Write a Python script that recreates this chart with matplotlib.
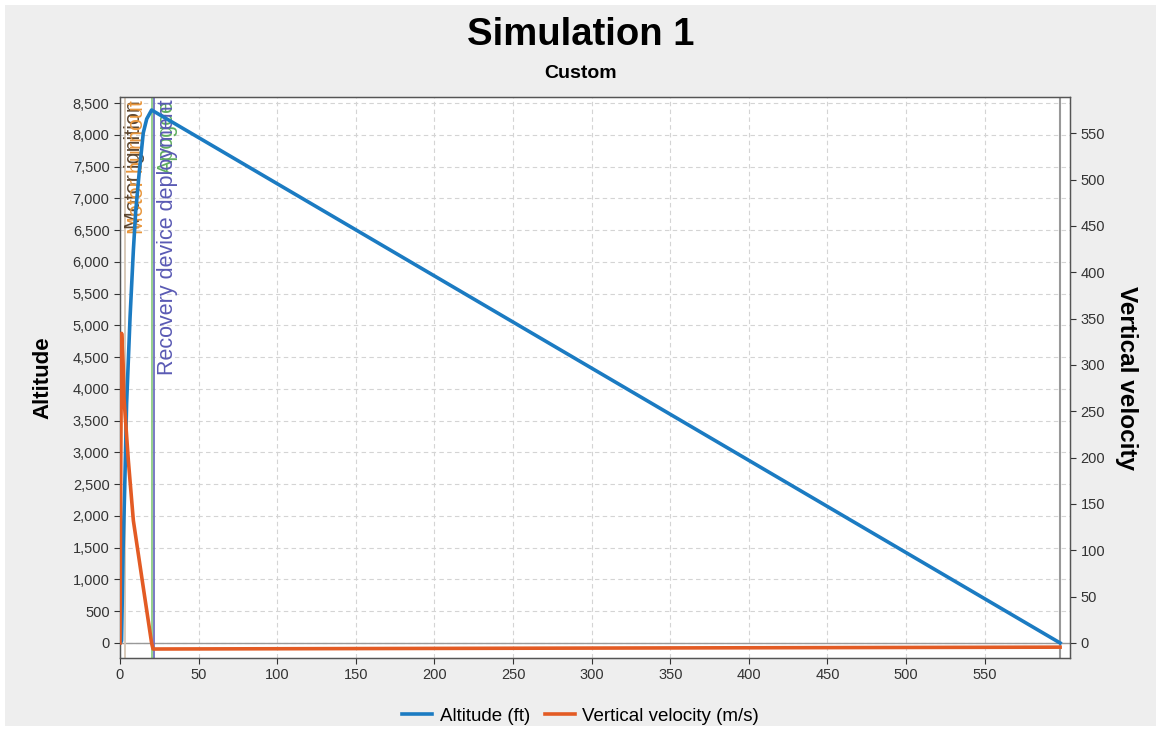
import matplotlib
matplotlib.use("Agg")
import matplotlib.pyplot as plt
from matplotlib.patches import Rectangle
from matplotlib.ticker import FuncFormatter, MultipleLocator

plt.rcParams['font.family'] = ['Liberation Sans', 'DejaVu Sans']

# altitude (ft) against time (s)
alt_t = [0, 1, 1.5, 2, 3, 4.2, 5.3, 6.4, 8.5, 10, 12.2, 14.8, 17, 20.1, 598]
alt_ft = [0, 30, 770, 1500, 2450, 3770, 4450, 5130, 6180, 6800, 7400, 8030, 8250, 8390, 0]

# vertical velocity (m/s) against time (s)
vel_t = [0, 0.5, 1, 2, 2.5, 5.3, 8.5, 14.8, 20.1, 21, 300, 598]
vel_ms = [0, 200, 334, 300, 265, 197, 132, 60, 0, -6.5, -5.5, -4.5]

x_ticks = [0, 50, 100, 150, 200, 250, 300, 350, 400, 450, 500, 550]

# flight events: (time, label, line colour, text colour, text x)
events = [
    (0.3, 'Motor ignition', '#6b5038', '#5c4630', 9.0),
    (3.2, 'Motor burnout', '#d6c6b4', '#e8963c', 11.0),
    (20.4, 'Apogee', '#8ccb84', '#5fae5f', 30.5),
    (21.6, 'Recovery device deployment', '#7070c0', '#5a5ab4', 30.0),
]

fig = plt.figure(figsize=(11.61, 7.31), dpi=100, facecolor='white')
fig.patches.append(Rectangle((5 / 1161, 5 / 731), 1151 / 1161, 721 / 731,
                             transform=fig.transFigure, facecolor='#eeeeee',
                             edgecolor='none', zorder=-10))

ax = fig.add_axes([120 / 1161, 73 / 731, 950 / 1161, 561 / 731])
ax.set_facecolor('white')
ax2 = ax.twinx()

ax.set_xlim(0, 604.3)
ax.set_ylim(-236.5, 8595)
ax2.set_ylim(-16.2, 589)

ax.set_xticks(x_ticks)
ax.yaxis.set_major_locator(MultipleLocator(500))
ax.yaxis.set_major_formatter(FuncFormatter(lambda v, p: '{:,.0f}'.format(v)))
ax2.yaxis.set_major_locator(MultipleLocator(50))

ax.grid(True, color='#d4d4d4', linestyle=(0, (4, 3)), linewidth=0.8)
ax.set_axisbelow(True)

for a in (ax, ax2):
    a.tick_params(labelsize=10.5, colors='#333333', length=4, width=0.8)
    for s in a.spines.values():
        s.set_color('#555555')
        s.set_linewidth(0.9)

ax.axhline(0, color='#999999', linewidth=1, zorder=1)
ax.axvline(598, color='#999999', linewidth=1.5, zorder=1)

for t, label, lc, tc, tx in events:
    ax.axvline(t, color=lc, linewidth=1.3, zorder=2)
    ax.text(tx, 0.995, label, transform=ax.get_xaxis_transform(), rotation=90,
            ha='center', va='top', color=tc, fontsize=15.5, zorder=3)

l1, = ax.plot(alt_t, alt_ft, color='#1b7bc2', linewidth=2.6, zorder=4,
              label='Altitude (ft)')
l2, = ax2.plot(vel_t, vel_ms, color='#e35b24', linewidth=2.6, zorder=4,
               label='Vertical velocity (m/s)')

ax.set_ylabel('Altitude', fontsize=16, fontweight='bold', labelpad=14)
ax2.set_ylabel('Vertical velocity', fontsize=17.5, fontweight='bold',
               rotation=270, labelpad=24)

fig.text(0.5, 1 - 35 / 731, 'Simulation 1', ha='center', va='center',
         fontsize=27.5, fontweight='bold')
fig.text(0.5, 1 - 73 / 731, 'Custom', ha='center', va='center',
         fontsize=14, fontweight='bold')

fig.legend([l1, l2], ['Altitude (ft)', 'Vertical velocity (m/s)'],
           loc='center', bbox_to_anchor=(0.5, 1 - 716 / 731), ncol=2,
           frameon=False, fontsize=13.5, handlelength=1.6, handletextpad=0.4,
           columnspacing=0.8)

fig.savefig('out.png', dpi=100, facecolor=fig.get_facecolor())
